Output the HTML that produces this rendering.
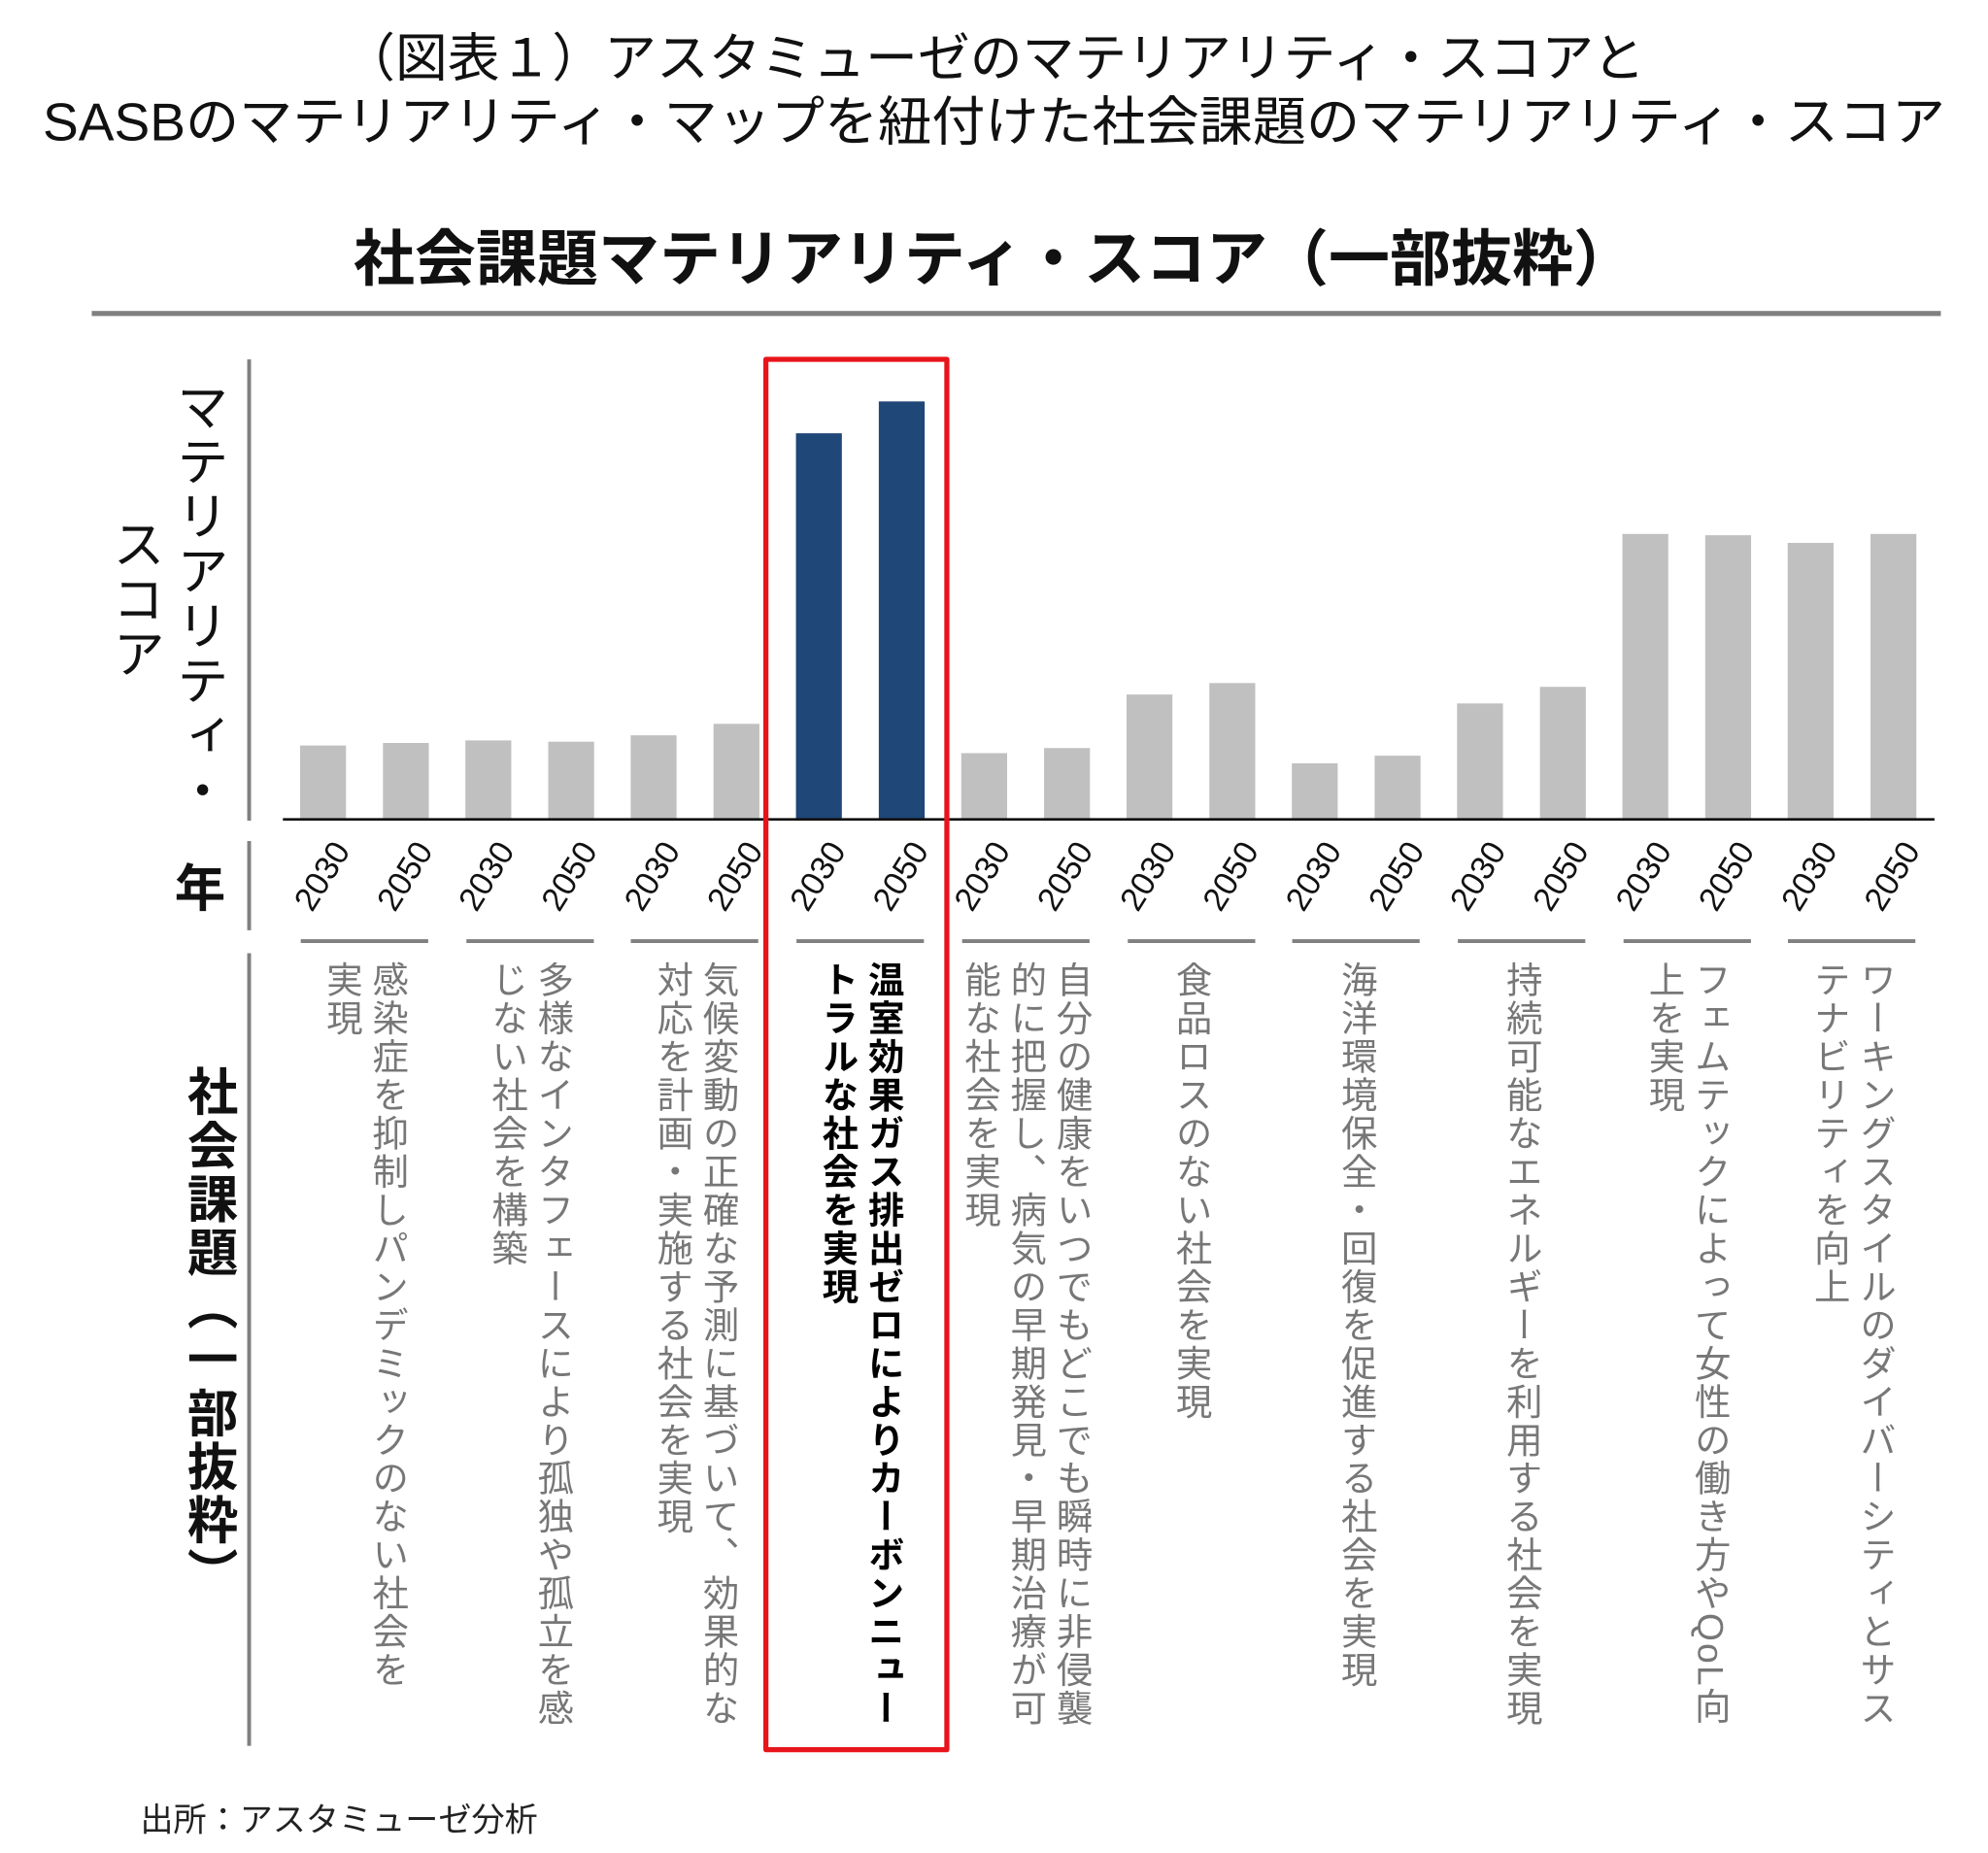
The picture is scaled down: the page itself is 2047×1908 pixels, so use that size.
<!DOCTYPE html>
<html><head><meta charset="utf-8">
<style>
html,body{margin:0;padding:0;background:#fff;}
#root{position:relative;width:1560px;height:1454px;transform:scale(1.31218);transform-origin:0 0;font-family:"Liberation Sans","Noto Sans CJK JP",sans-serif;overflow:hidden;}
.abs{position:absolute;}
.t1{left:0;width:1560px;text-align:center;font-size:36px;color:#111;white-space:nowrap;}
.vt{writing-mode:vertical-rl;position:absolute;white-space:nowrap;}
.cat{font-size:28.5px;line-height:36px;letter-spacing:1.6px;color:#777;transform:translateX(-50%);}
.yr{position:absolute;font-size:26px;color:#111;transform-origin:center;white-space:nowrap;}
</style></head><body>
<div id="root">
<div class="abs t1" style="top:12px;font-size:41px;">（図表１）アスタミューゼのマテリアリティ・スコアと</div>
<div class="abs t1" style="top:62px;font-size:42px;">SASBのマテリアリティ・マップを紐付けた社会課題のマテリアリティ・スコア</div>
<div class="abs t1" style="top:164px;font-size:48px;font-weight:bold;">社会課題マテリアリティ・スコア（一部抜粋）</div>
<div class="abs" style="left:72px;top:244px;width:1451px;height:4px;background:#808080;"></div>
<div class="abs" style="left:194px;top:282px;width:3px;height:362px;background:#808080;"></div>
<div class="abs" style="left:194px;top:660px;width:3px;height:70px;background:#808080;"></div>
<div class="abs" style="left:194px;top:748px;width:3px;height:622px;background:#808080;"></div>
<div class="vt" style="left:80px;top:292px;height:356px;font-size:41px;line-height:50px;letter-spacing:2px;text-align:center;color:#111;">マテリアリティ・<br>スコア</div>
<div class="abs" style="left:137px;top:665px;font-size:40px;color:#111;font-weight:bold;">年</div>
<div class="vt" style="left:134px;top:836px;font-size:40px;letter-spacing:2px;font-weight:bold;color:#111;">社会課題（一部抜粋）</div>
<svg class="abs" style="left:0;top:0" width="1560" height="1454" id="plot"></svg>
<div id="labels"></div>
<div class="abs" style="left:599px;top:280px;width:138px;height:1087px;border:4px solid #e8141b;border-radius:2px;"></div>
<div class="abs" style="left:110px;top:1408px;font-size:26px;color:#222;">出所：アスタミューゼ分析</div>
</div>
<script>
const categories=[
["感染症を抑制しパンデミックのない社会を","実現"],
["多様なインタフェースにより孤独や孤立を感","じない社会を構築"],
["気候変動の正確な予測に基づいて、効果的な","対応を計画・実施する社会を実現"],
["温室効果ガス排出ゼロによりカーボンニュー","トラルな社会を実現"],
["自分の健康をいつでもどこでも瞬時に非侵襲","的に把握し、病気の早期発見・早期治療が可","能な社会を実現"],
["食品ロスのない社会を実現"],
["海洋環境保全・回復を促進する社会を実現"],
["持続可能なエネルギーを利用する社会を実現"],
["フェムテックによって女性の働き方やQoL向","上を実現"],
["ワーキングスタイルのダイバーシティとサス","テナビリティを向上"]];
const years=["2030","2050"];
const score2030=[58,62,66,303,52,98,44,91,224,217];
const score2050=[60,61,75,328,56,107,50,104,223,224];
const highlightIndex=3;
const x0=286, groupStep=129.7, pairOff=32.5, barW=36, base=643, yMax=361, plotH=361;
const yScale=v=>base-v/yMax*plotH;
const gx=i=>x0+i*groupStep;
const svg=document.getElementById('plot');
const NS='http://www.w3.org/2000/svg';
const labels=document.getElementById('labels');
categories.forEach((c,i)=>{
  [score2030[i],score2050[i]].forEach((v,j)=>{
    const cx=gx(i)+(j===0?-pairOff:pairOff);
    const r=document.createElementNS(NS,'rect');
    r.setAttribute('x',cx-barW/2);r.setAttribute('y',yScale(v));
    r.setAttribute('width',barW);r.setAttribute('height',base-yScale(v));
    r.setAttribute('fill',i===highlightIndex?'#1f4778':'#c0c0c0');
    
    
    svg.appendChild(r);
    const t=document.createElement('div');
    t.className='yr';t.textContent=years[j];
    t.style.left=(cx-30)+'px';t.style.top='672px';
    t.style.transform='rotate(-58deg)';
    
    
    labels.appendChild(t);
  });
  const sep=document.createElement('div');
  sep.className='abs';
  sep.style.cssText='left:'+(gx(i)-50)+'px;top:737px;width:100px;height:3px;background:#808080;';
  
  
  labels.appendChild(sep);
  const d=document.createElement('div');
  d.className='vt cat';
  d.style.left=gx(i)+'px';d.style.top='754px';
  if(i===highlightIndex){d.style.color='#000';d.style.fontWeight='bold';}
  d.innerHTML=c.join('<br>');
  
  
  labels.appendChild(d);
});
const ax=document.createElementNS(NS,'line');
ax.setAttribute('x1',222);ax.setAttribute('x2',1518);ax.setAttribute('y1',base);ax.setAttribute('y2',base);
ax.setAttribute('stroke','#111');ax.setAttribute('stroke-width',2);


svg.appendChild(ax);
</script>
</body></html>
